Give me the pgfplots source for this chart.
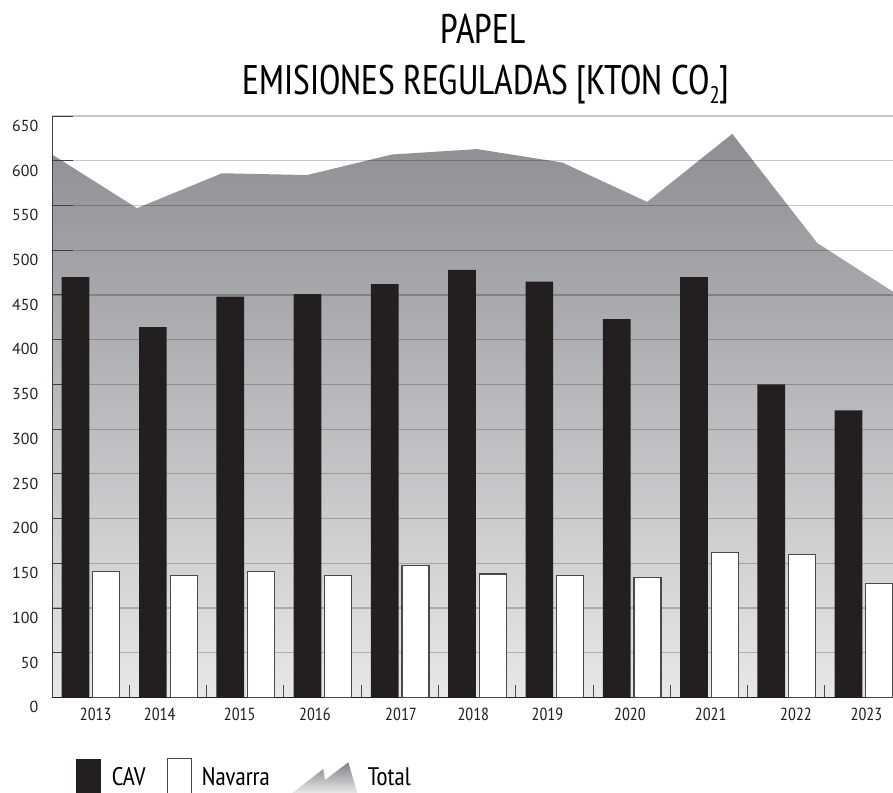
\documentclass[border=0pt]{standalone}
\usepackage{fontspec}
\setmainfont{PT Sans}
\newfontfamily\narrowfont{PT Sans Narrow}
\newfontfamily\titlefont{PT Sans Narrow}[FakeStretch=0.945]
\usepackage{pgfplots}
\pgfplotsset{compat=1.18}
\usepackage{pgfplotstable}

\definecolor{cavblack}{HTML}{231F20}
\definecolor{navedge}{HTML}{4A4A4A}
\definecolor{areatop}{HTML}{8E8F93}
\definecolor{areabot}{HTML}{E8E8EA}

% Emisiones reguladas del sector papel [kt CO2]
\pgfplotstableread{
idx year cav nav total
0  2013 470 141 607
1  2014 414 136 547
2  2015 448 141 586
3  2016 451 136 584
4  2017 462 148 607
5  2018 478 138 613
6  2019 465 136 598
7  2020 423 134 554
8  2021 470 162 630
9  2022 350 160 508
10 2023 321 127 447
}\papel

\begin{document}
\begin{tikzpicture}

% title
\node[anchor=base, inner sep=0pt] at (483bp,-43.3bp)
  {\titlefont\fontsize{41.5}{48}\selectfont PAPEL};
\node[anchor=base, inner sep=0pt] at (486bp,-94bp)
  {\titlefont\fontsize{41.5}{48}\selectfont EMISIONES REGULADAS [KTON CO\raisebox{-0.22em}{\fontsize{24}{26}\selectfont 2}]};

\begin{axis}[
  set layers,
  at={(52bp,-697.5bp)}, anchor=south west,
  scale only axis, width=841bp, height=581.5bp,
  xmin=0, xmax=10.88, ymin=0, ymax=650,
  axis x line=bottom, axis y line=left,
  axis line style={-},
  x axis line style={cavblack, line width=1.6bp},
  y axis line style={black!75, line width=1bp},
  tick align=inside,
  major tick length=21bp, minor tick length=12.5bp,
  xtick={0.565,1.393,2.428,3.402,4.515,5.451,6.410,7.477,8.521,9.625,10.537},
  xticklabels={2013,2014,2015,2016,2017,2018,2019,2020,2021,2022,2023},
  major x tick style={draw=none},
  minor xtick={1,...,10},
  minor x tick style={black!70, line width=1bp},
  ytick={0,50,...,650},
  major y tick style={black!75, line width=1bp},
  ymajorgrids,
  major grid style={black, opacity=0.22, line width=1.2bp},
  /pgf/number format/assume math mode=true,
  yticklabel style={anchor=east, inner sep=0pt, xshift=-13.5bp, yshift=-9.7bp,
    font=\fontsize{16}{18}\selectfont, text=cavblack},
  xticklabel style={anchor=north, inner sep=0pt, yshift=-10.5bp,
    font=\narrowfont\fontsize{17.6}{19}\selectfont, text=cavblack},
]
% total as shaded area behind the grid
\addplot[on layer=axis background, draw=none, top color=areatop, bottom color=areabot]
  table[x expr=1.1*\thisrow{idx}, y=total] {\papel} \closedcycle;
% CAV
\addplot[ybar, bar width=27.7bp, bar shift=0pt, fill=cavblack, draw=none]
  table[x expr=\thisrow{idx}+0.305, y=cav] {\papel};
% Navarra
\addplot[ybar, bar width=27bp, bar shift=0pt, fill=white, draw=navedge, line width=1.2bp]
  table[x expr=\thisrow{idx}+0.703, y=nav] {\papel};
\end{axis}

% legend
\fill[cavblack] (76bp,-759bp) rectangle (101bp,-800bp);
\node[anchor=base west, inner sep=0pt] at (111.7bp,-785bp)
  {\narrowfont\fontsize{25.5}{27}\selectfont CAV};
\draw[navedge, fill=white, line width=1.2bp] (167.8bp,-758.8bp) rectangle (191.8bp,-800bp);
\node[anchor=base west, inner sep=0pt] at (201.7bp,-785bp)
  {\narrowfont\fontsize{25.5}{27}\selectfont Navarra};
\shade[top color=areatop!90!black, bottom color=areabot]
  (292.3bp,-793bp) -- (323.3bp,-769bp) -- (325bp,-780bp) -- (348.3bp,-762.3bp)
  -- (357.3bp,-793bp) -- cycle;
\node[anchor=base west, inner sep=0pt] at (367.7bp,-785bp)
  {\narrowfont\fontsize{25.5}{27}\selectfont Total};

\pgfresetboundingbox
\path (0,0) rectangle (893bp,-793bp);
\end{tikzpicture}
\end{document}
